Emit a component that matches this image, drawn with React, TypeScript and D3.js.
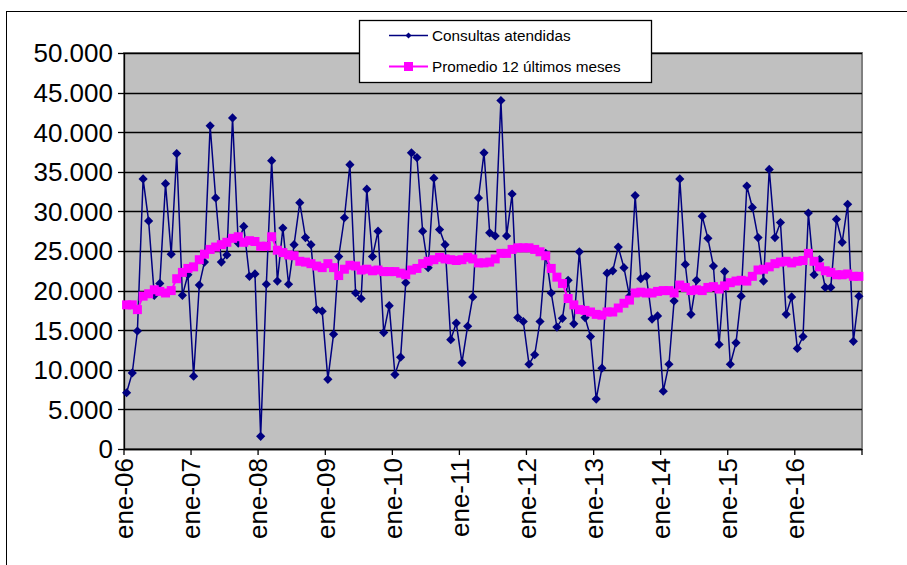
import React from "react";
import * as d3 from "d3";

const consultas: number[] = [
  7100, 9600, 14900, 34100, 28800, 19400, 20900, 33500, 24600, 37300, 19400, 22000,
  9200, 20700, 23600, 40800, 31700, 23600, 24500, 41800, 26000, 28100, 21800, 22100,
  1600, 20800, 36400, 21200, 27900, 20800, 25800, 31100, 26700, 25800, 17600, 17400,
  8800, 14500, 24300, 29200, 35900, 19700, 19000, 32800, 24300, 27500, 14700, 18100,
  9400, 11600, 21000, 37400, 36800, 27500, 22900, 34200, 27700, 25800, 13800, 15900,
  10900, 15500, 19200, 31700, 37400, 27300, 26900, 44000, 26900, 32200, 16600, 16100,
  10700, 11900, 16100, 24700, 19700, 15400, 16500, 21300, 15800, 24900, 16600, 14200,
  6300, 10200, 22200, 22500, 25500, 22900, 19300, 32000, 21500, 21800, 16400, 16800,
  7300, 10700, 18700, 34100, 23300, 17000, 21300, 29400, 26600, 23100, 13200, 22400,
  10700, 13400, 19300, 33200, 30500, 26700, 21200, 35300, 26700, 28600, 17000, 19200,
  12700, 14200, 29800, 22000, 23900, 20400, 20400, 29000, 26100, 30900, 13600, 19300,
];

const promedio: number[] = [
  18200, 18200, 17600, 19300, 19600, 20100, 19900, 19700, 20000, 21500, 22300, 22800,
  23000, 23900, 24600, 25200, 25500, 25800, 26100, 26600, 26800, 26100, 26300, 26200,
  25600, 25600, 26800, 25100, 24800, 24500, 24400, 23700, 23600, 23400, 23100, 22900,
  23400, 22900, 21900, 22700, 23200, 23100, 22600, 22700, 22500, 22600, 22400, 22400,
  22400, 22200, 22000, 22600, 22800, 23400, 23700, 23900, 24200, 24000, 23900, 23800,
  23900, 24200, 24000, 23500, 23500, 23600, 24000, 24700, 24700, 25200, 25400, 25400,
  25400, 25200, 24900, 24400, 22800, 21700, 20900, 19000, 18200, 17600, 17500, 17300,
  17000, 16900, 17300, 17300, 17800, 18400, 18800, 19700, 19800, 19700, 19700, 19900,
  20000, 20000, 19700, 20700, 20400, 20000, 20100, 20000, 20400, 20500, 20200, 20600,
  21000, 21200, 21300, 21200, 21800, 22600, 22700, 23000, 23400, 23600, 23700, 23500,
  23700, 23800, 24700, 23700, 23000, 22500, 22300, 22000, 22000, 22100, 21800, 21800,
];

const startYear = 2006;
const yearTicks: number[] = [2006, 2007, 2008, 2009, 2010, 2011, 2012, 2013, 2014, 2015, 2016, 2017];
const yTicks: number[] = [0, 5000, 10000, 15000, 20000, 25000, 30000, 35000, 40000, 45000, 50000];
const monthAbbr = "ene";
const seriesNames: string[] = ["Consultas atendidas", "Promedio 12 últimos meses"];

const W = 907;
const H = 565;
const plot = { left: 124, right: 862, top: 53, bottom: 449 };
const FONT = "'Liberation Sans', Arial, sans-serif";

const locale = d3.formatLocale({ decimal: ",", thousands: ".", grouping: [3], currency: ["", ""] });
const fmt = locale.format(",.0f");

const DIAMOND = "M0,-4.6L4.6,0L0,4.6L-4.6,0Z";

export default function App() {
  const x = d3
    .scaleTime()
    .domain([new Date(startYear, 0, 1), new Date(yearTicks[yearTicks.length - 1], 0, 1)])
    .range([plot.left, plot.right]);
  const y = d3.scaleLinear().domain([0, 50000]).range([plot.bottom, plot.top]);

  const dateOf = (i: number) => new Date(startYear, i, 15);

  const lineGen = d3
    .line<number>()
    .x((_, i) => x(dateOf(i)))
    .y((d) => y(d));

  return (
    <svg
      width={W}
      height={H}
      style={{ position: "absolute", left: 0, top: 0, background: "#fff" }}
    >
      <rect x={6.5} y={11.5} width={W + 10} height={H + 10} fill="#fff" stroke="#000" strokeWidth={1} />
      {/* plot area */}
      <rect
        x={plot.left}
        y={plot.top}
        width={plot.right - plot.left}
        height={plot.bottom - plot.top}
        fill="#C0C0C0"
        stroke="#808080"
        strokeWidth={2}
      />
      {/* gridlines */}
      {yTicks.map((t) => (
        <line
          key={"g" + t}
          x1={plot.left}
          x2={plot.right}
          y1={Math.round(y(t)) + 0.5}
          y2={Math.round(y(t)) + 0.5}
          stroke="#000"
          strokeWidth={1.3}
        />
      ))}
      {/* y axis */}
      <line x1={plot.left + 0.5} x2={plot.left + 0.5} y1={plot.top} y2={plot.bottom} stroke="#000" strokeWidth={1.3} />
      {yTicks.map((t) => (
        <g key={"yt" + t}>
          <line
            x1={plot.left - 6}
            x2={plot.left}
            y1={Math.round(y(t)) + 0.5}
            y2={Math.round(y(t)) + 0.5}
            stroke="#000"
            strokeWidth={1.3}
          />
          <text
            x={plot.left - 11}
            y={y(t)}
            dy="0.36em"
            textAnchor="end"
            fontFamily={FONT}
            fontSize={26}
            fill="#000"
          >
            {fmt(t)}
          </text>
        </g>
      ))}
      {/* x axis */}
      <line x1={plot.left} x2={plot.right} y1={plot.bottom + 0.5} y2={plot.bottom + 0.5} stroke="#000" strokeWidth={1.3} />
      {yearTicks.map((yr) => {
        const tx = x(new Date(yr, 0, 1));
        return (
          <g key={"xt" + yr}>
            <line x1={tx} x2={tx} y1={plot.bottom} y2={plot.bottom + 6} stroke="#000" strokeWidth={1.3} />
            {yr < yearTicks[yearTicks.length - 1] && (
              <text
                transform={`translate(${tx},${plot.bottom + 9}) rotate(-90)`}
                dy="0.36em"
                textAnchor="end"
                fontFamily={FONT}
                fontSize={26}
                fill="#000"
              >
                {`${monthAbbr}-${String(yr).slice(2)}`}
              </text>
            )}
          </g>
        );
      })}
      {/* series 1 */}
      <path d={lineGen(consultas) || ""} fill="none" stroke="#000080" strokeWidth={1.5} />
      {consultas.map((v, i) => (
        <path key={"d" + i} d={DIAMOND} transform={`translate(${x(dateOf(i))},${y(v)})`} fill="#000080" />
      ))}
      {/* series 2 */}
      <path d={lineGen(promedio) || ""} fill="none" stroke="#FF00FF" strokeWidth={2} />
      {promedio.map((v, i) => (
        <rect key={"s" + i} x={x(dateOf(i)) - 4.5} y={y(v) - 4.5} width={9} height={9} fill="#FF00FF" />
      ))}
      {/* legend */}
      <g>
        <rect x={359.5} y={20.5} width={292} height={62} fill="#fff" stroke="#000" strokeWidth={1.3} />
        <line x1={389} x2={428} y1={35.5} y2={35.5} stroke="#000080" strokeWidth={1.5} />
        <path d="M0,-3L3,0L0,3L-3,0Z" transform="translate(408.5,35.5)" fill="#000080" />
        <text x={432} y={35.5} dy="0.36em" fontFamily={FONT} fontSize={15.3} fill="#000">
          {seriesNames[0]}
        </text>
        <line x1={389} x2={428} y1={66.5} y2={66.5} stroke="#FF00FF" strokeWidth={2} />
        <rect x={404} y={62} width={9} height={9} fill="#FF00FF" />
        <text x={432} y={66.5} dy="0.36em" fontFamily={FONT} fontSize={15.3} fill="#000">
          {seriesNames[1]}
        </text>
      </g>
    </svg>
  );
}
